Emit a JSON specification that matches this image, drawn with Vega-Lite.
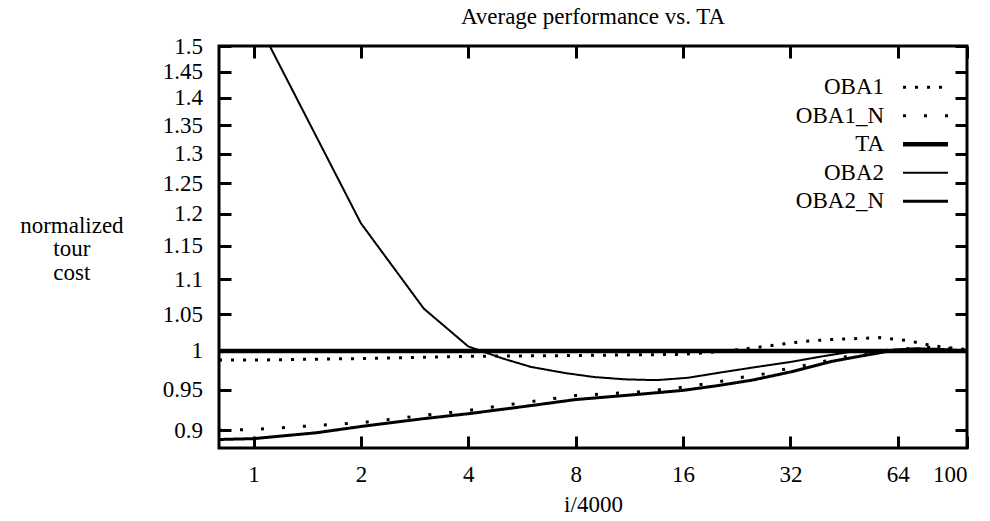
{
  "$schema": "https://vega.github.io/schema/vega-lite/v6.json",
  "width": 748,
  "height": 402,
  "autosize": {"type": "none"},
  "padding": {"left": 219, "top": 46, "right": 23, "bottom": 73},
  "background": "white",
  "title": {"text": "Average performance vs. TA", "font": "Liberation Serif", "fontSize": 23, "fontWeight": "normal", "anchor": "middle", "baseline": "alphabetic", "offset": -11.5, "color": "black"},
  "config": {
    "view": {"stroke": "black", "strokeWidth": 3},
    "font": "Liberation Serif",
    "axis": {"grid": false, "domain": false, "labelFont": "Liberation Serif", "labelFontSize": 23, "labelColor": "black", "tickColor": "black", "tickWidth": 3, "tickSize": -12, "titleFont": "Liberation Serif", "titleFontSize": 23, "titleFontWeight": "normal", "titleColor": "black"}
  },
  "data": {"values": [
    {"s": "TA", "x": 0.8, "y": 1.0},
    {"s": "TA", "x": 100, "y": 1.0},
    {"s": "OBA1", "x": 0.8, "y": 0.988},
    {"s": "OBA1", "x": 1, "y": 0.988},
    {"s": "OBA1", "x": 2, "y": 0.990},
    {"s": "OBA1", "x": 4, "y": 0.993},
    {"s": "OBA1", "x": 8, "y": 0.994},
    {"s": "OBA1", "x": 12, "y": 0.995},
    {"s": "OBA1", "x": 16, "y": 0.9955},
    {"s": "OBA1", "x": 20, "y": 0.999},
    {"s": "OBA1", "x": 24, "y": 1.003},
    {"s": "OBA1", "x": 28, "y": 1.007},
    {"s": "OBA1", "x": 35, "y": 1.013},
    {"s": "OBA1", "x": 42, "y": 1.0155},
    {"s": "OBA1", "x": 49, "y": 1.0166},
    {"s": "OBA1", "x": 57, "y": 1.018},
    {"s": "OBA1", "x": 68, "y": 1.014},
    {"s": "OBA1", "x": 80, "y": 1.007},
    {"s": "OBA1", "x": 95, "y": 1.003},
    {"s": "OBA1", "x": 100, "y": 1.002},
    {"s": "OBA1_N", "x": 0.8, "y": 0.900},
    {"s": "OBA1_N", "x": 1, "y": 0.901},
    {"s": "OBA1_N", "x": 2, "y": 0.909},
    {"s": "OBA1_N", "x": 3, "y": 0.918},
    {"s": "OBA1_N", "x": 4, "y": 0.924},
    {"s": "OBA1_N", "x": 6, "y": 0.935},
    {"s": "OBA1_N", "x": 8, "y": 0.9425},
    {"s": "OBA1_N", "x": 12, "y": 0.947},
    {"s": "OBA1_N", "x": 16, "y": 0.953},
    {"s": "OBA1_N", "x": 20, "y": 0.9596},
    {"s": "OBA1_N", "x": 23, "y": 0.965},
    {"s": "OBA1_N", "x": 27, "y": 0.970},
    {"s": "OBA1_N", "x": 31.5, "y": 0.977},
    {"s": "OBA1_N", "x": 37, "y": 0.983},
    {"s": "OBA1_N", "x": 43, "y": 0.990},
    {"s": "OBA1_N", "x": 49, "y": 0.995},
    {"s": "OBA1_N", "x": 57, "y": 1.000},
    {"s": "OBA1_N", "x": 68, "y": 1.003},
    {"s": "OBA1_N", "x": 80, "y": 1.005},
    {"s": "OBA1_N", "x": 90, "y": 1.003},
    {"s": "OBA1_N", "x": 100, "y": 1.001},
    {"s": "OBA2", "x": 0.8, "y": 1.71},
    {"s": "OBA2", "x": 1, "y": 1.564},
    {"s": "OBA2", "x": 2, "y": 1.185},
    {"s": "OBA2", "x": 3, "y": 1.058},
    {"s": "OBA2", "x": 4, "y": 1.006},
    {"s": "OBA2", "x": 5, "y": 0.990},
    {"s": "OBA2", "x": 6, "y": 0.979},
    {"s": "OBA2", "x": 7.5, "y": 0.971},
    {"s": "OBA2", "x": 9, "y": 0.966},
    {"s": "OBA2", "x": 11, "y": 0.963},
    {"s": "OBA2", "x": 13.5, "y": 0.962},
    {"s": "OBA2", "x": 16.5, "y": 0.965},
    {"s": "OBA2", "x": 20.5, "y": 0.972},
    {"s": "OBA2", "x": 25.7, "y": 0.979},
    {"s": "OBA2", "x": 32, "y": 0.9855},
    {"s": "OBA2", "x": 39.4, "y": 0.993},
    {"s": "OBA2", "x": 47, "y": 0.9987},
    {"s": "OBA2", "x": 55, "y": 1.000},
    {"s": "OBA2", "x": 65, "y": 1.002},
    {"s": "OBA2", "x": 80, "y": 1.002},
    {"s": "OBA2", "x": 100, "y": 1.000},
    {"s": "OBA2_N", "x": 0.8, "y": 0.889},
    {"s": "OBA2_N", "x": 1, "y": 0.890},
    {"s": "OBA2_N", "x": 1.5, "y": 0.897},
    {"s": "OBA2_N", "x": 2, "y": 0.9045},
    {"s": "OBA2_N", "x": 3, "y": 0.914},
    {"s": "OBA2_N", "x": 4, "y": 0.920},
    {"s": "OBA2_N", "x": 6, "y": 0.930},
    {"s": "OBA2_N", "x": 8, "y": 0.9375},
    {"s": "OBA2_N", "x": 12, "y": 0.944},
    {"s": "OBA2_N", "x": 16, "y": 0.949},
    {"s": "OBA2_N", "x": 20, "y": 0.955},
    {"s": "OBA2_N", "x": 25, "y": 0.962},
    {"s": "OBA2_N", "x": 32, "y": 0.9725},
    {"s": "OBA2_N", "x": 42, "y": 0.9865},
    {"s": "OBA2_N", "x": 50, "y": 0.993},
    {"s": "OBA2_N", "x": 56, "y": 0.997},
    {"s": "OBA2_N", "x": 62, "y": 1.001},
    {"s": "OBA2_N", "x": 72, "y": 1.003},
    {"s": "OBA2_N", "x": 85, "y": 1.002},
    {"s": "OBA2_N", "x": 100, "y": 1.000}
  ]},
  "layer": [
    {
      "mark": {"type": "line", "color": "black", "clip": true, "strokeCap": "butt"},
      "encoding": {
        "x": {"field": "x", "type": "quantitative", "scale": {"type": "log", "base": 2, "domain": [0.8, 100], "nice": false},
          "axis": {"orient": "bottom", "values": [1, 2, 4, 8, 16, 32, 64, 100], "format": "d", "labelPadding": 27, "title": "i/4000", "titleX": 374, "titleY": 63, "titleBaseline": "alphabetic", "titleAlign": "center"}},
        "y": {"field": "y", "type": "quantitative", "scale": {"type": "log", "domain": [0.879, 1.5], "nice": false, "zero": false},
          "axis": {"orient": "left", "values": [0.9, 0.95, 1, 1.05, 1.1, 1.15, 1.2, 1.25, 1.3, 1.35, 1.4, 1.45, 1.5], "format": "~g", "labelPadding": 28.6, "labelAlign": "right", "labelBaseline": "middle",
            "title": ["normalized", "tour", "cost"], "titleAngle": 0, "titleAlign": "center", "titleBaseline": "alphabetic", "titleX": -147.6, "titleY": 186, "titleLineHeight": 23.5}},
        "strokeDash": {"field": "s", "type": "nominal",
          "scale": {"domain": ["OBA1", "OBA1_N", "TA", "OBA2", "OBA2_N"], "range": [[3, 9], [3, 18], [1, 0], [1, 0], [1, 0]]},
          "legend": {"title": null, "orient": "none", "legendX": 695, "legendY": 29.7, "symbolType": "M-3,0H3", "symbolSize": 225, "symbolStrokeColor": "black", "labelAlign": "right", "labelOffset": -53, "labelFontSize": 23, "labelFont": "Liberation Serif", "labelColor": "black", "rowPadding": 4.5, "padding": 0, "labelLimit": 0}},
        "strokeWidth": {"field": "s", "type": "nominal",
          "scale": {"type": "ordinal", "domain": ["OBA1", "OBA1_N", "TA", "OBA2", "OBA2_N"], "range": [3, 3, 4.5, 2, 3]},
          "legend": {"title": null, "orient": "none", "legendX": 695, "legendY": 29.7, "symbolType": "M-3,0H3", "symbolSize": 225, "symbolStrokeColor": "black", "labelAlign": "right", "labelOffset": -53, "labelFontSize": 23, "labelFont": "Liberation Serif", "labelColor": "black", "rowPadding": 4.5, "padding": 0, "labelLimit": 0}}
      }
    },
    {
      "mark": {"type": "point", "opacity": 0, "clip": true},
      "encoding": {
        "x": {"field": "x", "type": "quantitative", "axis": {"orient": "top", "values": [1, 2, 4, 8, 16, 32, 64, 100], "labels": false, "title": null}},
        "y": {"field": "y", "type": "quantitative", "axis": {"orient": "right", "values": [0.9, 0.95, 1, 1.05, 1.1, 1.15, 1.2, 1.25, 1.3, 1.35, 1.4, 1.45, 1.5], "labels": false, "title": null}}
      }
    }
  ],
  "resolve": {"axis": {"x": "independent", "y": "independent"}}
}
